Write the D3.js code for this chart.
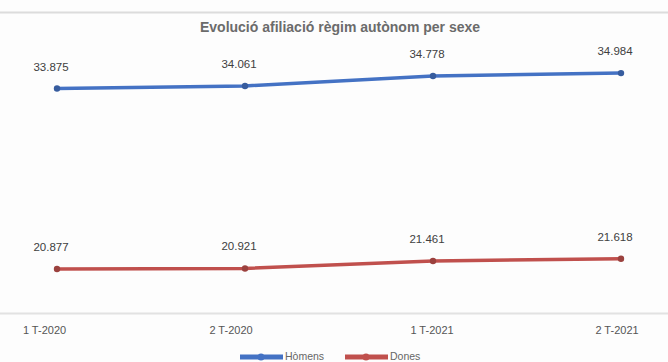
<!DOCTYPE html>
<html><head><meta charset="utf-8">
<script src="https://cdn.jsdelivr.net/npm/d3@7/dist/d3.min.js"></script>
<style>body{margin:0;background:#fff}svg{display:block}</style>
</head><body>
<svg id="c" width="668" height="362"></svg>
<script>
const categories = ["1 T-2020", "2 T-2020", "1 T-2021", "2 T-2021"];
const homens = [33875, 34061, 34778, 34984];
const dones = [20877, 20921, 21461, 21618];
const seriesNames = ["Hòmens", "Dones"];
const colors = ["#4472c4", "#c0504d"];

const svg = d3.select("#c");
const W = 668, H = 362;
svg.append("rect").attr("width", W).attr("height", H).attr("fill", "#fdfdfd");

// frame lines
svg.append("line").attr("x1", 0).attr("x2", W).attr("y1", 12.5).attr("y2", 12.5).attr("stroke", "#dcdcdc").attr("stroke-width", 2);
svg.append("line").attr("x1", 0).attr("x2", W).attr("y1", 313.5).attr("y2", 313.5).attr("stroke", "#e2e2e2").attr("stroke-width", 2);

const x = d3.scalePoint().domain(categories).range([57, 621]);
const y = d3.scaleLinear().domain([18000, 36000]).range([309, 59]);

svg.append("text").attr("x", 340).attr("y", 32).attr("text-anchor", "middle")
  .attr("font-family", "Liberation Sans, Arial, sans-serif").attr("font-weight", "bold")
  .attr("font-size", 14).attr("fill", "#6b6b6b")
  .text("Evolució afiliació règim autònom per sexe");

const series = [homens, dones];
const line = d3.line().x((d, i) => x(categories[i])).y(d => y(d));

series.forEach((s, k) => {
  svg.append("path").datum(s).attr("d", line).attr("fill", "none")
    .attr("stroke", colors[k]).attr("stroke-width", 3.5).attr("stroke-linecap", "round");
  svg.selectAll(null).data(s).enter().append("circle")
    .attr("cx", (d, i) => x(categories[i])).attr("cy", d => y(d)).attr("r", 3.2)
    .attr("fill", d3.color(colors[k]).darker(0.6));
  svg.selectAll(null).data(s).enter().append("text")
    .attr("x", (d, i) => x(categories[i]) - 6).attr("y", d => y(d) - 18)
    .attr("text-anchor", "middle")
    .attr("font-family", "Liberation Sans, Arial, sans-serif").attr("font-size", 11.5)
    .attr("fill", "#404040")
    .text(d => d3.format(",")(d).replace(",", "."));
});

// x axis labels
const xAxis = d3.axisBottom(x).tickSize(0).tickPadding(0);
const gx = svg.append("g").attr("transform", "translate(-13,330)").call(xAxis);
gx.select(".domain").remove();
gx.selectAll("text").attr("font-family", "Liberation Sans, Arial, sans-serif")
  .attr("font-size", 11).attr("fill", "#555").attr("dy", "0.35em").attr("y", 0);
gx.selectAll(".tick").filter((d, i) => i === 1).attr("transform", `translate(${x(categories[1]) - 1},0)`);
gx.selectAll(".tick").filter((d, i) => i === 2).attr("transform", `translate(${x(categories[2]) + 12},0)`);
gx.selectAll(".tick").filter((d, i) => i === 3).attr("transform", `translate(${x(categories[3]) + 9},0)`);

// legend
const legX = [240, 345];
seriesNames.forEach((n, k) => {
  const g = svg.append("g").attr("transform", `translate(${legX[k]},357)`);
  g.append("line").attr("x1", 0).attr("x2", 43).attr("y1", 0).attr("y2", 0)
    .attr("stroke", colors[k]).attr("stroke-width", 5);
  g.append("circle").attr("cx", 21).attr("cy", 0).attr("r", 3.5).attr("fill", colors[k]);
  g.append("text").attr("x", 45).attr("y", 3).attr("font-family", "Liberation Sans, Arial, sans-serif")
    .attr("font-size", 10.5).attr("fill", "#666").text(n);
});
</script>
</body></html>
